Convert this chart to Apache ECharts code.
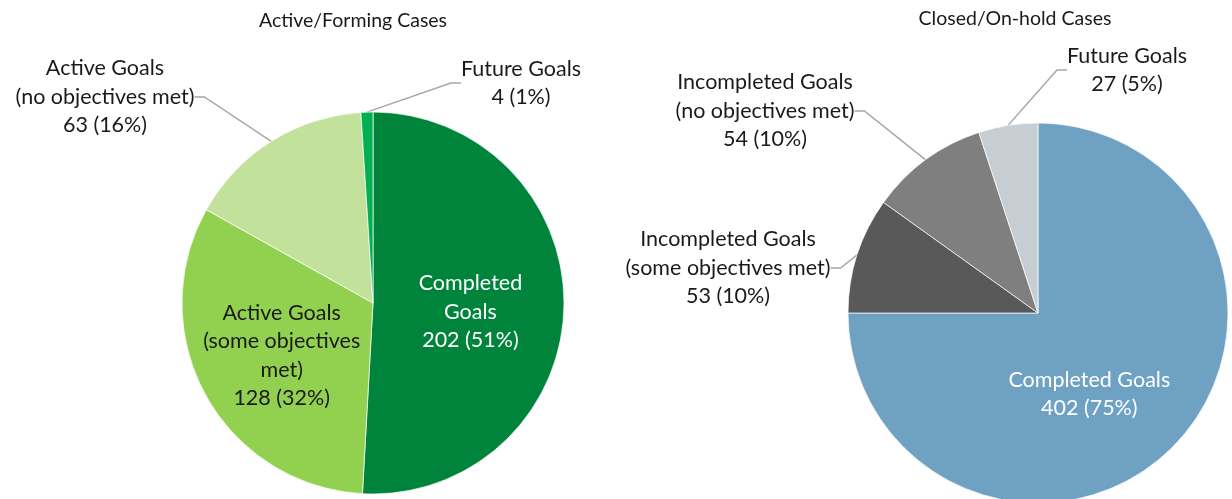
<!DOCTYPE html>
<html>
<head>
<meta charset="utf-8">
<script src="https://cdn.jsdelivr.net/npm/echarts@6/dist/echarts.min.js"></script>
<style>
html,body{margin:0;padding:0;background:#fff;}
#chart{width:1232px;height:499px;}
</style>
</head>
<body>
<div id="chart"></div>
<script>
// ---- data ----
const leftTitle = 'Active/Forming Cases';
const rightTitle = 'Closed/On-hold Cases';
const leftNames = ['Completed Goals', 'Active Goals (some objectives met)', 'Active Goals (no objectives met)', 'Future Goals'];
const leftLabels = ['Completed\nGoals', 'Active Goals\n(some objectives\nmet)', 'Active Goals\n(no objectives met)', 'Future Goals'];
const leftValues = [202, 128, 63, 4];
const leftColors = ['#00843C', '#92D050', '#C2E29B', '#00B050'];

const rightNames = ['Completed Goals', 'Incompleted Goals (some objectives met)', 'Incompleted Goals (no objectives met)', 'Future Goals'];
const rightLabels = ['Completed Goals', 'Incompleted Goals\n(some objectives met)', 'Incompleted Goals\n(no objectives met)', 'Future Goals'];
const rightValues = [402, 53, 54, 27];
const rightColors = ['#6FA1C3', '#595959', '#7F7F7F', '#C7CED3'];

// ---- layout / style ----
const FONT = 'Lato, "Liberation Sans", sans-serif';
const leftInside = [true, true, false, false];
const rightInside = [true, false, false, false];
const leftOutsidePos = {2: [105, 97], 3: [521, 83]};
const rightOutsidePos = {1: [728, 268], 2: [765, 111], 3: [1127, 70]};

function fmt(labels) {
  return function (p) {
    return labels[p.dataIndex] + '\n' + p.value + ' (' + Math.round(p.percent) + '%)';
  };
}

function buildData(names, values, colors, inside) {
  return names.map((n, i) => ({
    name: n,
    value: values[i],
    itemStyle: {color: colors[i]},
    label: inside[i] ? {position: 'inside', color: '#ffffff'} : {position: 'outside', color: '#1a1a1a'},
    labelLine: {show: !inside[i]}
  }));
}

function dataL() {
  const d = buildData(leftNames, leftValues, leftColors, leftInside);
  d[1].label.color = '#1a1a1a';
  d[1].label.offset = [-5, 5];
  d[0].label.offset = [-1, 6];
  return d;
}
function dataR() {
  const d = buildData(rightNames, rightValues, rightColors, rightInside);
  d[0].label.offset = [-18, 12];
  return d;
}

function layoutFn(pos) {
  return function (params) {
    const p = pos[params.dataIndex];
    if (!p) return {};
    return {x: p[0], y: p[1], align: 'center', verticalAlign: 'middle'};
  };
}

const chart = echarts.init(document.getElementById('chart'), null, {renderer: 'canvas'});
chart.setOption({
  backgroundColor: '#ffffff',
  animation: false,
  title: [
    {text: leftTitle, left: 348, top: 6, textAlign: 'center',
     textStyle: {fontFamily: FONT, fontSize: 19.5, fontWeight: 'normal', color: '#1a1a1a'}},
    {text: rightTitle, left: 1010, top: 4, textAlign: 'center',
     textStyle: {fontFamily: FONT, fontSize: 19.5, fontWeight: 'normal', color: '#1a1a1a'}}
  ],
  series: [
    {
      type: 'pie',
      center: [373, 303],
      radius: 191,
      startAngle: 90,
      clockwise: true,
      itemStyle: {borderColor: '#ffffff', borderWidth: 0.7},
      label: {fontFamily: FONT, fontSize: 21.5, lineHeight: 28.5, align: 'center', formatter: fmt(leftLabels)},
      labelLine: {lineStyle: {color: '#A6A6A6', width: 1.5}, length: 15, length2: 10},
      labelLayout: layoutFn(leftOutsidePos),
      emphasis: {disabled: true},
      data: dataL()
    },
    {
      type: 'pie',
      center: [1038, 313],
      radius: 190,
      startAngle: 90,
      clockwise: true,
      itemStyle: {borderColor: '#ffffff', borderWidth: 0.7},
      label: {fontFamily: FONT, fontSize: 21.5, lineHeight: 28.5, align: 'center', formatter: fmt(rightLabels)},
      labelLine: {lineStyle: {color: '#A6A6A6', width: 1.5}, length: 15, length2: 10},
      labelLayout: layoutFn(rightOutsidePos),
      emphasis: {disabled: true},
      data: dataR()
    }
  ]
});
</script>
</body>
</html>
